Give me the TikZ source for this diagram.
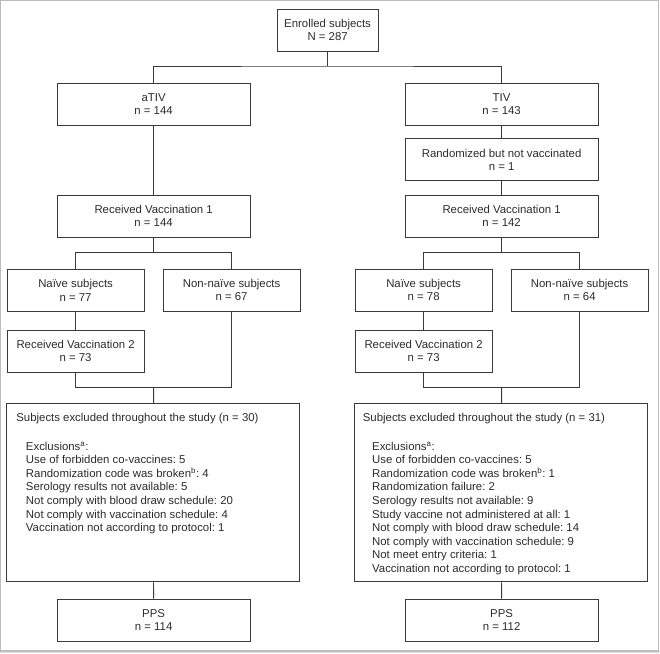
\documentclass[tikz,border=0pt]{standalone}
\usepackage{fontspec}
\setmainfont{Liberation Sans}

\definecolor{boxline}{HTML}{3A3A3A}
\definecolor{boxtext}{HTML}{2B2B2B}
\definecolor{framegray}{HTML}{BCBCBC}

\tikzset{
  flowbox/.style={draw=boxline, line width=0.9pt, text=boxtext, align=center,
    minimum height=1.4cm, inner sep=0pt, font=\fontsize{10.8}{12.85}\selectfont},
  widebox/.style={flowbox, minimum width=6.43cm},
  smallbox/.style={flowbox, minimum width=4.57cm},
  exclbox/.style={flowbox, minimum width=9.77cm, minimum height=5.93cm},
  listtext/.style={text=boxtext, align=left, inner sep=0pt,
    font=\fontsize{10.8}{12.85}\selectfont\frenchspacing},
  link/.style={draw=boxline, line width=0.9pt}
}

\begin{document}
\begin{tikzpicture}
        \useasboundingbox (0,0) rectangle (22,-21.767);
        % the grey frame round the figure
        \fill[framegray!50] (0,-21.7) rectangle (22,-21.767);
        \draw[framegray, line width=1.2pt] (0.02,-0.02) rectangle (21.95,-21.7);

        % top box
        \node[flowbox, minimum width=3.37cm] (enrolled) at (10.92,-1) {Enrolled subjects\\N = 287};
        \coordinate (split) at (10.92,-2.2);

        % the two arms of the study
        \foreach \s/\x/\arm/\nr/\nv/\na/\nn/\nt/\pp in
          {L/5.12/aTIV/144/144/77/67/73/114, R/16.72/TIV/143/142/78/64/73/112}
        {
          \node[widebox] (arm\s) at (\x,-3.47) {\arm\\n = \nr};
          \node[widebox] (vac\s) at (\x,-7.2) {Received Vaccination 1\\n = \nv};
          \node[smallbox] (naive\s) at (\x-2.6,-9.67) {Naïve subjects\\n = \na};
          \node[smallbox] (other\s) at (\x+2.6,-9.67) {Non-naïve subjects\\n = \nn};
          \node[smallbox] (second\s) at (\x-2.6,-11.7) {Received Vaccination 2\\n = \nt};
          \node[exclbox] (excl\s) at (\x-0.01,-16.43) {};
          \node[widebox] (pps\s) at (\x,-20.67) {PPS\\n = \pp};
          \coordinate (fork\s) at (\x,-8.43);
          \coordinate (join\s) at (\x,-12.93);
          % connectors inside the arm
          \draw[link] (vac\s) -- (fork\s);
          \draw[link] (naive\s) |- (fork\s) -| (other\s);
          \draw[link] (naive\s) -- (second\s);
          \draw[link] (second\s) |- (join\s) -| (other\s);
          \draw[link] (join\s) -- (excl\s);
          \draw[link] (excl\s) -- (pps\s);
        }

        % not vaccinated on the TIV side
        \node[widebox] (novac) at (16.72,-5.33) {Randomized but not vaccinated\\n = 1};

        % randomization
        \draw[link] (enrolled) -- (split);
        \draw[link] (armL) |- (split) -| (armR);
        \draw[link] (armL) -- (vacL);
        \draw[link] (armR) -- (novac);
        \draw[link] (novac) -- (vacR);

        % exclusion lists
        \node[listtext, anchor=north west] (titleL) at ([shift={(0.33,-0.33)}]exclL.north west)
          {Subjects excluded throughout the study (n = 30)};
        \node[listtext, anchor=north west] (listL) at ([shift={(0.65,-1.27)}]exclL.north west)
          {Exclusions\textsuperscript{a}:\\
           Use of forbidden co-vaccines: 5\\
           Randomization code was broken\textsuperscript{b}: 4\\
           Serology results not available: 5\\
           Not comply with blood draw schedule: 20\\
           Not comply with vaccination schedule: 4\\
           Vaccination not according to protocol: 1};
        \node[listtext, anchor=north west] (titleR) at ([shift={(0.28,-0.33)}]exclR.north west)
          {Subjects excluded throughout the study (n = 31)};
        \node[listtext, anchor=north west] (listR) at ([shift={(0.59,-1.27)}]exclR.north west)
          {Exclusions\textsuperscript{a}:\\
           Use of forbidden co-vaccines: 5\\
           Randomization code was broken\textsuperscript{b}: 1\\
           Randomization failure: 2\\
           Serology results not available: 9\\
           Study vaccine not administered at all: 1\\
           Not comply with blood draw schedule: 14\\
           Not comply with vaccination schedule: 9\\
           Not meet entry criteria: 1\\
           Vaccination not according to protocol: 1};
    \end{tikzpicture}
\end{document}
